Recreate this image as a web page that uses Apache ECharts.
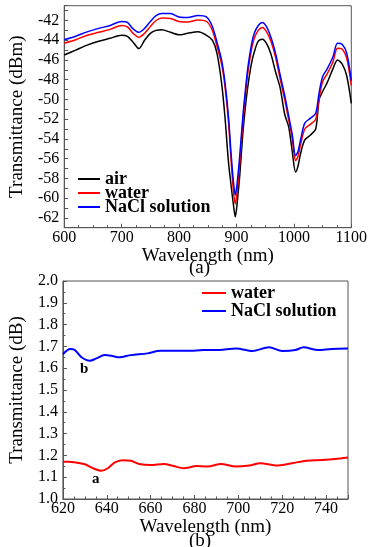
<!DOCTYPE html>
<html>
<head>
<meta charset="utf-8">
<script src="https://cdn.jsdelivr.net/npm/echarts@6/dist/echarts.min.js"></script>
<style>
  html, body { margin: 0; padding: 0; background: #fff; }
  #chart { width: 370px; height: 547px; }
</style>
</head>
<body>
<div id="chart"></div>
<script>
const FONT = "'Liberation Serif', 'Times New Roman', serif";
const FRAME = "#555";

// (a) transmission spectra, 600-1100 nm
const waveA = [600, 620, 640, 660, 680, 700, 710, 720, 730, 740, 750, 760, 770, 785, 800, 815, 833, 848,
  858, 866, 874, 880, 886, 891, 895, 898, 902, 906, 911, 916, 920, 926, 931, 938, 945, 952, 960, 968,
  976, 984, 991, 997, 1003, 1007, 1012, 1019, 1029, 1038, 1044, 1050, 1058, 1068, 1076, 1084, 1092, 1100];
const airA = [-45.5, -45.0, -44.5, -44.1, -43.8, -43.5, -43.6, -44.2, -44.85, -44.0, -43.3, -43.0, -42.95,
  -43.2, -43.45, -43.3, -43.15, -43.5, -44.0, -45.3, -48.3, -51.8, -56.3, -58.9, -60.8, -61.9, -60.0,
  -57.5, -53.5, -50.5, -48.6, -46.4, -45.2, -44.1, -43.9, -44.3, -45.4, -47.2, -48.8, -51.5, -52.8,
  -55.2, -57.35, -56.8, -55.4, -54.1, -53.6, -53.0, -50.0, -49.2, -48.3, -46.9, -46.0, -46.4, -47.6, -50.4];
const waterA = [-44.3, -43.95, -43.5, -43.2, -42.9, -42.5, -42.65, -43.3, -43.7, -43.3, -42.6, -42.0,
  -41.75, -41.8, -42.1, -42.15, -41.95, -42.1, -43.0, -44.6, -46.4, -48.7, -52.2, -56.5, -59.5, -60.6,
  -58.8, -56.2, -52.4, -49.3, -47.2, -45.0, -43.8, -43.0, -42.7, -43.1, -44.1, -45.7, -47.9, -50.0,
  -52.1, -53.9, -56.2, -55.8, -54.5, -53.0, -52.5, -52.0, -49.9, -48.2, -47.4, -46.2, -44.8, -44.9, -45.8, -48.6];
const naclA = [-43.95, -43.6, -43.15, -42.8, -42.5, -42.1, -42.2, -42.85, -43.2, -42.8, -42.1, -41.5,
  -41.3, -41.3, -41.65, -41.7, -41.5, -41.65, -42.6, -44.2, -46.0, -48.3, -51.7, -55.8, -58.5, -59.7,
  -58.0, -55.5, -51.8, -48.8, -46.7, -44.5, -43.3, -42.5, -42.2, -42.6, -43.7, -45.3, -47.5, -49.6,
  -51.7, -53.5, -55.7, -55.3, -54.0, -52.4, -51.9, -51.4, -49.3, -47.7, -46.9, -45.7, -44.3, -44.4, -45.3, -48.1];

// (b) zoomed spectra, 620-750 nm
const waveWaterB = [620, 622.5, 630, 633.8, 637.5, 640.5, 643.5, 647.2, 651, 654.7, 660, 666, 670.5, 675,
  681, 686, 692, 699, 705, 710, 717, 724.4, 731, 738, 744, 750];
const waterB = [1.171, 1.171, 1.159, 1.141, 1.130, 1.141, 1.167, 1.178, 1.175, 1.161, 1.156, 1.161, 1.151,
  1.141, 1.151, 1.149, 1.161, 1.149, 1.154, 1.164, 1.154, 1.164, 1.176, 1.179, 1.183, 1.190];
const waveNaclB = [620, 623.3, 625.5, 628.5, 632.3, 635.3, 639, 642, 645.8, 651, 658.5, 664.5, 670, 676.5,
  684, 691.5, 699, 706.4, 714, 720, 726, 729.7, 736.4, 742.4, 750];
const naclB = [1.664, 1.688, 1.683, 1.650, 1.634, 1.645, 1.660, 1.657, 1.650, 1.660, 1.668, 1.680, 1.680,
  1.680, 1.683, 1.684, 1.690, 1.679, 1.696, 1.679, 1.683, 1.696, 1.683, 1.688, 1.690];

const pairs = (xs, ys) => xs.map((x, i) => [x, ys[i]]);

const tickStyle = { inside: true, length: 4, lineStyle: { color: FRAME } };
const minorStyle = { show: true, length: 2.5, lineStyle: { color: FRAME } };
const labelStyle = { color: "#000", fontFamily: FONT, fontSize: 16 };
const nameStyle = { color: "#000", fontFamily: FONT, fontSize: 19 };
const legendText = { color: "#000", fontFamily: FONT, fontSize: 18, fontWeight: "bold" };

const line = (name, data, color, axis, width) => ({
  name, type: "line", data, xAxisIndex: axis, yAxisIndex: axis,
  showSymbol: false, smooth: 0.3, animation: false,
  lineStyle: { color, width }, itemStyle: { color },
});

const chart = echarts.init(document.getElementById("chart"), null, { renderer: "canvas" });
chart.setOption({
  backgroundColor: "#fff",
  grid: [
    { left: 61, top: 5.7, width: 291, height: 222, show: true, borderColor: FRAME, borderWidth: 1 },
    { left: 58, top: 281, width: 290, height: 218, show: true, borderColor: FRAME, borderWidth: 1 },
  ],
  xAxis: [
    {
      gridIndex: 0, type: "value", min: 600, max: 1100, interval: 100,
      name: "Wavelength (nm)", nameLocation: "middle", nameGap: 13, nameTextStyle: nameStyle,
      axisLine: { lineStyle: { color: FRAME } }, axisTick: tickStyle,
      minorTick: { ...minorStyle, splitNumber: 4 },
      axisLabel: { ...labelStyle, margin: 2, formatter: (v) => String(v) }, splitLine: { show: false },
    },
    {
      gridIndex: 1, type: "value", min: 620, max: 750, interval: 20,
      name: "Wavelength (nm)", nameLocation: "middle", nameGap: 15, nameTextStyle: nameStyle,
      axisLine: { lineStyle: { color: FRAME } }, axisTick: tickStyle,
      minorTick: { ...minorStyle, splitNumber: 4 },
      axisLabel: { ...labelStyle, margin: 2, showMaxLabel: false }, splitLine: { show: false },
    },
  ],
  yAxis: [
    {
      gridIndex: 0, type: "value", min: -63, max: -40.5, interval: 1,
      name: "Transmittance (dBm)", nameLocation: "middle", nameGap: 33, nameTextStyle: nameStyle,
      axisLine: { lineStyle: { color: FRAME } }, axisTick: tickStyle,
      axisLabel: {
        ...labelStyle, margin: 5,
        formatter: (v) => (Number.isInteger(v) && v % 2 === 0 ? String(v) : ""),
      },
      splitLine: { show: false },
    },
    {
      gridIndex: 1, type: "value", min: 1.0, max: 2.0, interval: 0.1,
      name: "Transmittance (dB)", nameLocation: "middle", nameGap: 34, nameTextStyle: nameStyle,
      axisLine: { lineStyle: { color: FRAME } }, axisTick: tickStyle,
      minorTick: { ...minorStyle, splitNumber: 2 },
      axisLabel: { ...labelStyle, margin: 5, formatter: (v) => v.toFixed(1) },
      splitLine: { show: false },
    },
  ],
  legend: [
    {
      data: ["air", "water", "NaCl solution"], orient: "vertical", left: 78, top: 170,
      icon: "rect", itemWidth: 22, itemHeight: 2, itemGap: -4, padding: 0,
      textStyle: legendText,
    },
    {
      data: ["water", "NaCl solution"], orient: "vertical", left: 202, top: 284,
      icon: "rect", itemWidth: 24, itemHeight: 2, itemGap: 0, padding: 0,
      textStyle: legendText,
    },
  ],
  graphic: [
    { type: "text", left: 189, top: 259, style: { text: "(a)", font: "19px " + FONT, fill: "#000" } },
    { type: "text", left: 189, top: 532, style: { text: "(b)", font: "19px " + FONT, fill: "#000" } },
    { type: "text", left: 80, top: 362, style: { text: "b", font: "bold 15px " + FONT, fill: "#000" } },
    { type: "text", left: 92, top: 472, style: { text: "a", font: "bold 15px " + FONT, fill: "#000" } },
  ],
  series: [
    line("air", pairs(waveA, airA), "#000", 0, 1.5),
    line("water", pairs(waveA, waterA), "#ff0000", 0, 1.5),
    line("NaCl solution", pairs(waveA, naclA), "#0000ff", 0, 1.5),
    line("water", pairs(waveWaterB, waterB), "#ff0000", 1, 2),
    line("NaCl solution", pairs(waveNaclB, naclB), "#0000ff", 1, 2),
  ],
});
</script>
</body>
</html>
